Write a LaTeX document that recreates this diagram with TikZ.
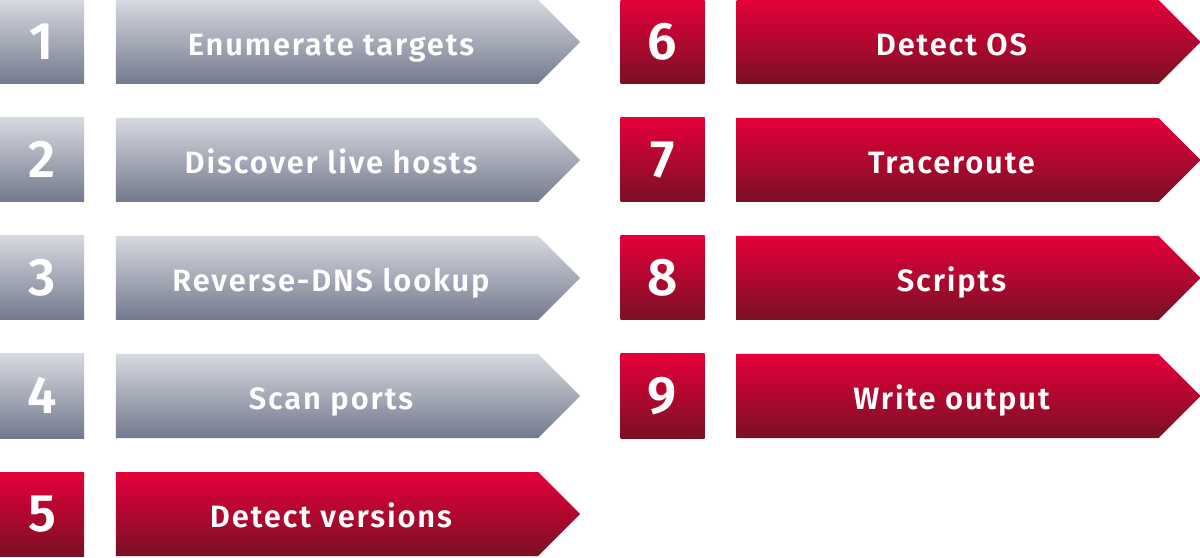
\documentclass[tikz,border=0pt]{standalone}
\usepackage{fontspec}
\setmainfont{Fira Sans}[BoldFont={Fira Sans SemiBold}]
\newfontfamily\steplabelfont{Fira Sans SemiBold}[LetterSpace=6]
\usepackage{tikz}
\usetikzlibrary{shapes, shapes.symbols, calc, positioning}
\definecolor{stepgreytop}{RGB}{214, 217, 224}
\definecolor{stepgreybot}{RGB}{115, 121, 141}
\definecolor{stepredtop}{RGB}{229, 0, 58}
\definecolor{stepredbot}{RGB}{122, 16, 36}

\begin{document}
\begin{tikzpicture}[x=1bp, y=1bp]
        \useasboundingbox (0, 0) rectangle (1200, -558);

        \tikzstyle{greyfill} = [top color=stepgreytop, bottom color=stepgreybot];
        \tikzstyle{redfill} = [top color=stepredtop, bottom color=stepredbot];
        \tikzstyle{num} = [minimum width=84bp, minimum height=84bp, inner sep=0];
        \tikzstyle{sig} = [signal, signal to=east, signal pointer angle=90,
            minimum width=464bp, minimum height=84bp, inner sep=0];
        \tikzstyle{digit} = [anchor=base, inner sep=0, text=white,
            font=\bfseries\fontsize{53}{53}\selectfont];
        \tikzstyle{lbl} = [anchor=base, inner sep=0, text=white,
            font=\steplabelfont\fontsize{31}{31}\selectfont];

        \foreach \i/\col/\row/\fillstyle/\txt in {
                1/0/0/greyfill/Enumerate targets,
                2/0/1/greyfill/Discover live hosts,
                3/0/2/greyfill/Reverse-DNS lookup,
                4/0/3/greyfill/Scan ports,
                5/0/4/redfill/Detect versions,
                6/1/0/redfill/Detect OS,
                7/1/1/redfill/Traceroute,
                8/1/2/redfill/Scripts,
                9/1/3/redfill/Write output}{
            \coordinate (N\i) at (\col*620.5, -\row*118);

            \node [num, \fillstyle] (n\i) at ($(N\i) + (42, -42)$) { };
            \node [sig, \fillstyle] (s\i) at ($(N\i) + (327, -42)$) { };
            \node [digit] (d\i) at ($(n\i.center) + (0, -17.5)$) {\i};
            \node [lbl] (t\i) at ($(s\i.center) + (4, -13.5)$) {\txt};
        }
    \end{tikzpicture}
\end{document}
